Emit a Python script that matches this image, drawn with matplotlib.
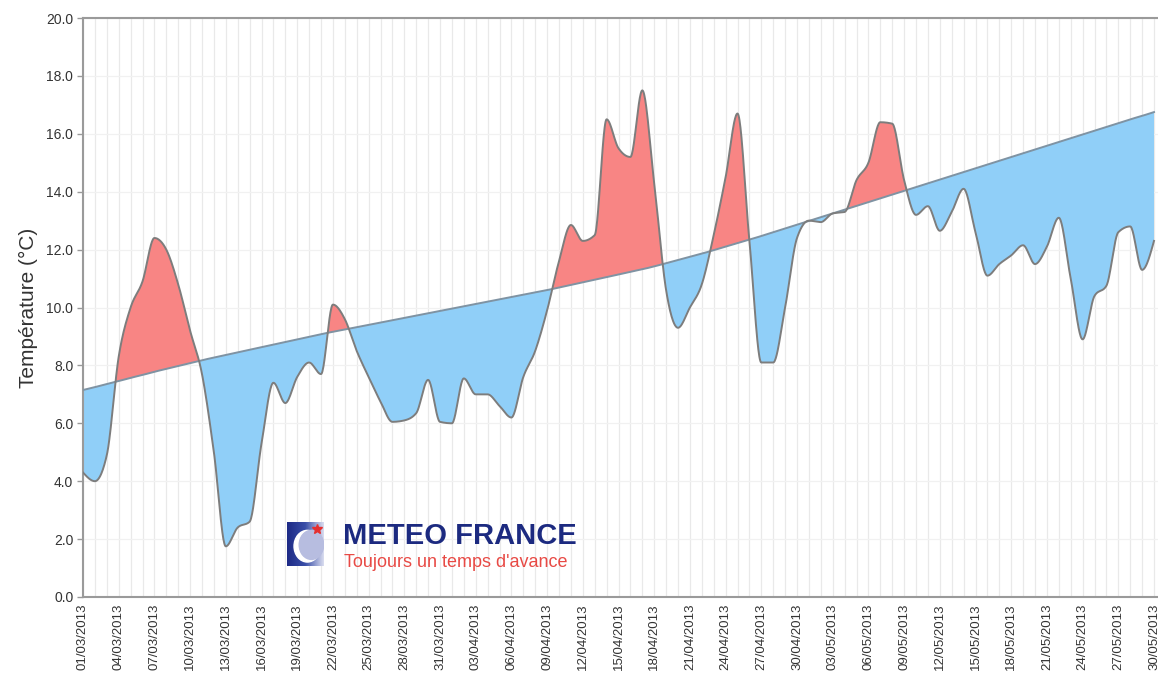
import numpy as np
import pandas as pd
import matplotlib
matplotlib.use("Agg")
import matplotlib.pyplot as plt
from matplotlib.patches import Circle
from matplotlib.colors import LinearSegmentedColormap

# ---------------- data ----------------
dates = pd.date_range("2013-03-01", "2013-05-30", freq="D")
date_labels = [d.strftime("%d/%m/%Y") for d in dates]

observed = [
    4.3, 4.0, 4.9, 8.3, 10.0, 10.9, 12.4, 12.0, 10.8, 9.2,
    7.7, 5.0, 1.75, 2.4, 2.6, 5.3, 7.4, 6.7, 7.6, 8.1,
    7.7, 10.1, 9.6, 8.5, 7.6, 6.75, 6.05, 6.1, 6.35, 7.5,
    6.05, 6.0, 7.55, 7.0, 7.0, 6.6, 6.2, 7.6, 8.5, 9.9,
    11.6, 12.85, 12.3, 12.5, 16.5, 15.5, 15.2, 17.5, 14.3, 10.6,
    9.3, 10.0, 10.8, 12.5, 14.5, 16.7, 12.3, 8.1, 8.1, 10.0,
    12.4, 13.0, 12.95, 13.25, 13.3, 14.4, 15.0, 16.4, 16.35, 14.4,
    13.2, 13.5, 12.65, 13.3, 14.1, 12.6, 11.1, 11.5, 11.8, 12.15,
    11.5, 12.1, 13.1, 11.0, 8.9, 10.4, 10.75, 12.6, 12.8, 11.3,
    12.3,
]

normal = [
    7.15, 7.25, 7.36, 7.46, 7.57, 7.67, 7.78, 7.88, 7.98, 8.08,
    8.18, 8.27, 8.36, 8.45, 8.54, 8.63, 8.72, 8.81, 8.90, 8.99,
    9.08, 9.16, 9.24, 9.32, 9.40, 9.48, 9.56, 9.64, 9.72, 9.80,
    9.88, 9.96, 10.04, 10.12, 10.20, 10.28, 10.36, 10.44, 10.52, 10.60,
    10.69, 10.78, 10.87, 10.96, 11.05, 11.14, 11.23, 11.32, 11.42, 11.53,
    11.64, 11.75, 11.86, 11.98, 12.10, 12.22, 12.34, 12.47, 12.60, 12.73,
    12.86, 12.99, 13.12, 13.25, 13.38, 13.51, 13.64, 13.77, 13.90, 14.03,
    14.16, 14.29, 14.42, 14.55, 14.68, 14.81, 14.94, 15.07, 15.20, 15.33,
    15.46, 15.59, 15.72, 15.85, 15.98, 16.11, 16.24, 16.37, 16.50, 16.62,
    16.75,
]

y_ticks = [0.0, 2.0, 4.0, 6.0, 8.0, 10.0, 12.0, 14.0, 16.0, 18.0, 20.0]
y_label = "Température (°C)"
brand = "METEO FRANCE"
slogan = "Toujours un temps d'avance"

# ---------------- helpers: monotone cubic (d3 monotoneX style) ----------------
def smooth(values, n=24):
    y = np.asarray(values, float)
    x = np.arange(len(y), dtype=float)
    s = np.diff(y)  # secants (h = 1)
    m = np.zeros_like(y)
    for i in range(1, len(y) - 1):
        s0, s1 = s[i - 1], s[i]
        p = (s0 + s1) / 2.0
        m[i] = (np.sign(s0) + np.sign(s1)) * min(abs(s0), abs(s1), 0.5 * abs(p))
    m[0] = (3 * s[0] - m[1]) / 2.0
    m[-1] = (3 * s[-1] - m[-2]) / 2.0
    t = np.linspace(0, 1, n, endpoint=False)
    h00 = 2 * t ** 3 - 3 * t ** 2 + 1
    h10 = t ** 3 - 2 * t ** 2 + t
    h01 = -2 * t ** 3 + 3 * t ** 2
    h11 = t ** 3 - t ** 2
    xs, ys = [], []
    for i in range(len(y) - 1):
        ys.append(h00 * y[i] + h10 * m[i] + h01 * y[i + 1] + h11 * m[i + 1])
        xs.append(x[i] + t)
    xs.append([x[-1]])
    ys.append([y[-1]])
    return np.concatenate(xs), np.concatenate(ys)

# ---------------- figure ----------------
W, H = 1158, 690
fig = plt.figure(figsize=(W / 100, H / 100), dpi=100)
fig.patch.set_facecolor("white")
ax = fig.add_axes([83 / W, 1 - 597 / H, 1 - 83 / W, (597 - 18) / H])

xo, yo = smooth(observed)
xn, yn = smooth(normal)

red = "#f88584"
blue = "#90cff8"
ax.fill_between(xo, yo, yn, where=yo >= yn, interpolate=True,
                color=red, lw=0, zorder=2)
ax.fill_between(xo, yo, yn, where=yo <= yn, interpolate=True,
                color=blue, lw=0, zorder=2)
ax.plot(xn, yn, color="#7f93a3", lw=1.4, zorder=3)
ax.plot(xo, yo, color="#7d7d7d", lw=1.4, zorder=4)

ax.set_xlim(0, (W - 83) / 11.9)
ax.set_ylim(0, 20)

ax.set_yticks(y_ticks)
ax.set_yticklabels([f"{v:.1f}" for v in y_ticks], fontsize=10,
                   color="#333333", family="Liberation Sans")
ax.set_xticks(range(0, len(date_labels), 3))
ax.set_xticklabels(date_labels[::3], rotation=90, fontsize=9.5,
                   color="#333333", family="Liberation Sans")
ax.set_xticks(range(len(date_labels)), minor=True)
ax.tick_params(axis="x", which="both", length=0, pad=5)
ax.tick_params(axis="y", length=4, color="#999999", width=1, pad=3)

ax.grid(axis="x", which="both", color="#e9e9e9", lw=0.9, zorder=0)
ax.grid(axis="y", which="major", color="#f1f1f1", lw=0.9, zorder=0)
ax.set_axisbelow(True)

for s in ["left", "bottom", "top"]:
    ax.spines[s].set_color("#9a9a9a")
    ax.spines[s].set_linewidth(1.5)
ax.spines["right"].set_visible(False)

ax.set_ylabel(y_label, fontsize=15, color="#333333", family="Liberation Sans",
              labelpad=6)

# ---------------- logo ----------------
lax = fig.add_axes([287 / W, 1 - 566 / H, 37 / W, 44 / H])
grad = np.linspace(0, 1, 64)[None, :]
cm = LinearSegmentedColormap.from_list("lg", ["#1d2a86", "#3a4fa8", "#d9dcef"])
lax.imshow(np.repeat(grad, 64, axis=0), cmap=cm, extent=(0, 1, 0, 1),
           aspect="auto")
lax.add_patch(Circle((0.55, 0.45), 0.36, color="white", zorder=2))
lax.add_patch(Circle((0.66, 0.48), 0.33, color="#b7bde0", zorder=3))
lax.plot([0.82], [0.83], marker="*", color="#e53030", ms=7, zorder=4)
lax.set_xlim(0, 1)
lax.set_ylim(0, 1)
lax.axis("off")

fig.text(343 / W, 1 - 544 / H, brand, fontsize=21, fontweight="bold",
         color="#1c2a80", family="Liberation Sans", va="baseline", ha="left")
fig.text(344 / W, 1 - 567 / H, slogan, fontsize=13,
         color="#e84a45", family="Liberation Sans", va="baseline", ha="left")

fig.savefig("out.png", dpi=100)
